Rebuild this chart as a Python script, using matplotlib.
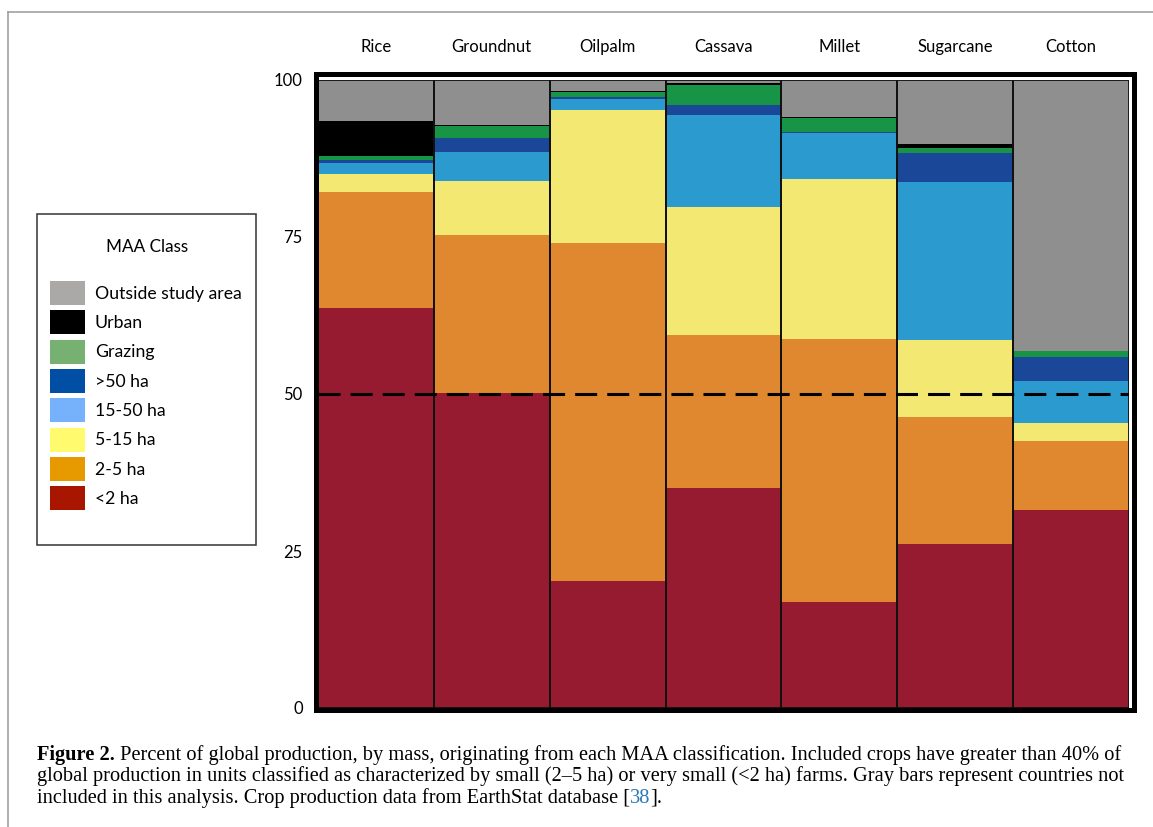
import matplotlib
matplotlib.use('Agg')
import matplotlib.pyplot as plt
import numpy as np
from matplotlib.patches import Patch, Rectangle
from matplotlib.lines import Line2D

# ---------------- data ----------------
crops = ['Rice', 'Groundnut', 'Oilpalm', 'Cassava', 'Millet', 'Sugarcane', 'Cotton']
lt2 = [63.7, 50.1, 20.3, 35.1, 16.9, 26.1, 31.5]
ha2_5 = [18.5, 25.2, 53.7, 24.3, 41.8, 20.3, 11.0]
ha5_15 = [2.8, 8.6, 21.2, 20.3, 25.6, 12.2, 2.9]
ha15_50 = [1.8, 4.7, 1.7, 14.7, 7.2, 25.2, 6.7]
gt50 = [0.5, 2.2, 0.4, 1.6, 0.2, 4.5, 3.8]
grazing = [0.6, 1.8, 0.8, 3.2, 2.2, 0.9, 1.0]
urban = [5.6, 0.2, 0.2, 0.3, 0.2, 0.6, 0.0]
outside = [6.5, 7.2, 1.7, 0.5, 5.9, 10.2, 43.1]
yticks = [0, 25, 50, 75, 100]
threshold = 50

legend_labels = ['Outside study area', 'Urban', 'Grazing', '>50 ha', '15-50 ha',
                 '5-15 ha', '2-5 ha', '<2 ha']

caption1_bold = 'Figure 2.'
caption1 = (' Percent of global production, by mass, originating from each MAA classification. '
            'Included crops have greater than 40% of')
caption2 = ('global production in units classified as characterized by small (2\u20135 ha) or very '
            'small (<2 ha) farms. Gray bars represent countries not')
caption3a = 'included in this analysis. Crop production data from EarthStat database ['
caption3b = '38'
caption3c = '].'

# ---------------- style ----------------
plt.rcParams['font.family'] = ['Lato', 'DejaVu Sans']
W, H = 1153, 827
series = [lt2, ha2_5, ha5_15, ha15_50, gt50, grazing, urban, outside]
bar_colors = ['#961B30', '#E0882F', '#F2E872', '#2B9BCF', '#1A4797', '#189446',
              '#000000', '#8F8F8F']
leg_colors = ['#ABA8A8', '#000000', '#76B172', '#004FA4', '#76B2FC', '#FFFA6E',
              '#E69A00', '#A81600']


def fx(x):
    return x / W


def fy(y):
    return 1 - y / H


fig = plt.figure(figsize=(W / 100, H / 100), dpi=100)
ax = fig.add_axes([fx(318), fy(708), 811 / W, 628 / H])

x = np.arange(len(crops))
bottom = np.zeros(len(crops))
for vals, col in zip(series, bar_colors):
    vals = np.array(vals)
    ax.bar(x, vals, bottom=bottom, width=1.0, color=col, edgecolor='none',
           linewidth=0, zorder=2)
    bottom += vals
ax.bar(x, bottom, width=1.0, fill=False, edgecolor='#111111', linewidth=1.3, zorder=3)

ax.axhline(threshold, color='black', lw=2.2, dashes=(7.2, 3.3), zorder=4)

ax.set_xlim(-0.5, len(crops) - 0.5)
ax.set_ylim(0, 100)
for s in ax.spines.values():
    s.set_visible(False)
ax.xaxis.tick_top()
ax.set_xticks(x)
ax.set_xticklabels(crops)
ax.set_yticks(yticks)
ax.set_yticklabels([str(t) for t in yticks])
ax.tick_params(axis='x', length=0, pad=18, labelsize=12)
ax.tick_params(axis='y', length=0, pad=11, labelsize=12)

# thick frame around the plot
fig.add_artist(Rectangle((fx(315.5), fy(710)), (1134 - 315.5) / W, (710 - 74) / H,
                         transform=fig.transFigure, fill=False, lw=3.6,
                         edgecolor='black', zorder=10))

# legend
handles = [Patch(facecolor=c, edgecolor='none', label=l) for c, l in zip(leg_colors, legend_labels)]
fig.legend(handles=handles, loc='upper left', bbox_to_anchor=(fx(50), fy(281)),
           frameon=False, fontsize=12.7, handlelength=1.98, handleheight=1.72,
           labelspacing=0.3, handletextpad=0.57, borderpad=0, borderaxespad=0)
fig.text(fx(147), fy(247), 'MAA Class', ha='center', va='center', fontsize=12.3)
fig.add_artist(Rectangle((fx(37), fy(545)), (256 - 37) / W, (545 - 214) / H,
                         transform=fig.transFigure, fill=False, lw=1.1,
                         edgecolor='#333333'))

# image border lines
fig.add_artist(Line2D([fx(8), 1], [fy(12), fy(12)], color='#9A9A9A', lw=1.1,
                      transform=fig.transFigure))
fig.add_artist(Line2D([fx(8), fx(8)], [0, fy(12)], color='#9A9A9A', lw=1.1,
                      transform=fig.transFigure))

# caption
serif = ['Liberation Serif', 'DejaVu Serif']
cs = 14.7
t1 = fig.text(fx(37), fy(760), caption1_bold, fontsize=cs, family=serif, fontweight='bold',
              va='baseline', ha='left')
ax.annotate(caption1, xy=(1, 0), xycoords=t1, va='bottom', ha='left',
            fontsize=cs, family=serif, annotation_clip=False)
fig.text(fx(37), fy(781.5), caption2, fontsize=cs, family=serif, va='baseline', ha='left')
t3 = fig.text(fx(37), fy(803), caption3a, fontsize=cs, family=serif, va='baseline', ha='left')
t3b = ax.annotate(caption3b, xy=(1, 0), xycoords=t3, va='bottom', ha='left',
                  fontsize=cs, family=serif, color='#2A7AB8', annotation_clip=False)
ax.annotate(caption3c, xy=(1, 0), xycoords=t3b, va='bottom', ha='left',
            fontsize=cs, family=serif, annotation_clip=False)

fig.savefig('out.png', dpi=100)
